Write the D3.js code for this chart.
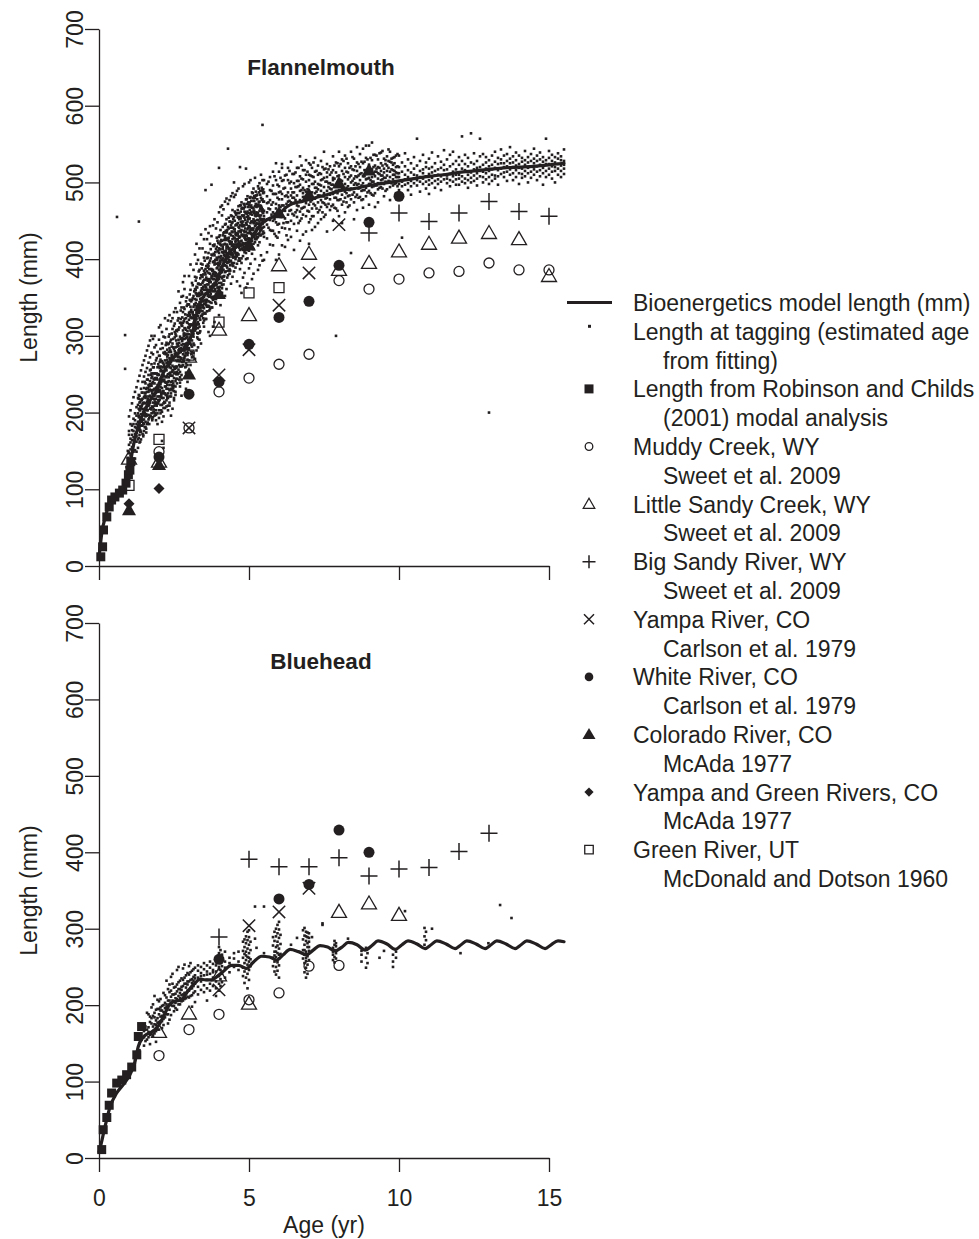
<!DOCTYPE html>
<html>
<head>
<meta charset="utf-8">
<script src="https://cdn.jsdelivr.net/npm/d3@7"></script>
<style>
  body { margin: 0; background: #fff; }
  svg { display: block; }
  text { font-family: "Liberation Sans", Arial, Helvetica, sans-serif; fill: #231f20; }
</style>
</head>
<body>
<svg id="chart" width="979" height="1239"></svg>
<script>
// ---------- Axis ticks ----------
const ageTicks = [0, 5, 10, 15];
const lengthTicks = [0, 100, 200, 300, 400, 500, 600, 700];

// ---------- Flannelmouth ----------
// Bioenergetics model length (age yr, length mm)
const flanModel = [[0,12],[0.04,25],[0.1,45],[0.2,62],[0.3,76],[0.45,87],[0.6,93],[0.75,99],[0.9,110],[1.0,122],[1.08,142],[1.18,163],[1.31,182],[1.45,197],[1.59,208],[1.75,219],[1.92,229],[2.1,248],[2.26,260],[2.42,269],[2.59,275],[2.75,281],[2.92,286],[3.03,295],[3.14,308],[3.26,329],[3.38,343],[3.48,351],[3.65,358],[3.81,364],[3.95,374],[4.1,390],[4.26,403],[4.42,412],[4.59,416],[4.8,419],[5.03,424],[5.2,434],[5.37,444],[5.59,451],[5.8,455],[6.03,460],[6.25,468],[6.48,473],[6.75,475],[7.03,478],[7.3,481],[7.59,484],[8.0,489],[8.5,492],[9.0,496],[9.5,499],[10,502],[10.5,505],[11,508],[11.5,510],[12,513],[12.5,515],[13,517],[13.5,519],[14,520],[14.5,521],[15,523],[15.5,525]];

// Length at tagging, one string per estimated age: "age:length length ..."
const flanTagging = [
  "0.60:455", "0.87:257 301", "0.92:114 129", "0.96:108 141 150",
  "1.00:147 171 158 134 176 122 195",
  "1.05:129 166 152 185 161 203 144",
  "1.10:183 140 171 155 212 164 131 177",
  "1.15:158 149 192 176 137 168 220 185",
  "1.20:172 199 163 151 181 227 140 190",
  "1.25:196 162 185 207 174 149 233 169 180",
  "1.30:165 188 210 154 199 177 241 219 183",
  "1.33:449",
  "1.35:203 180 161 194 222 171 248 187 213",
  "1.40:175 217 190 206 165 231 198 255 183",
  "1.45:226 197 183 211 172 240 205 262 190 218",
  "1.50:191 220 176 232 204 213 185 268 247 199",
  "1.55:212 238 195 181 225 206 253 219 274 188",
  "1.60:243 203 227 185 214 258 232 196 281 210",
  "1.65:197 221 249 209 236 191 265 227 287 215",
  "1.70:230 213 255 196 241 222 272 205 294 237",
  "1.75:251 218 235 204 263 228 199 245 278 300",
  "1.90:197 226 244 211 232 190 268 218 288 203",
  "1.80:229 207 251 222 194 240 213 276 259 296 200",
  "1.95:212 243 199 228 259 221 185 249 279 236",
  "1.85:251 222 209 238 196 264 231 217 285 300 243",
  "2.10:201 232 254 219 243 210 267 225 188 290 305 163",
  "2.00:238 215 260 229 203 249 221 274 193 295 311",
  "2.15:219 249 206 241 264 228 212 278 195 299 154",
  "2.05:254 227 210 244 221 269 237 199 283 314 233",
  "2.30:231 266 219 250 209 240 275 225 203 289 320",
  "2.20:259 234 213 247 279 225 240 206 298 268 323",
  "2.35:221 251 236 271 209 259 229 284 213 302 327",
  "2.25:265 239 223 255 216 277 246 231 291 208 309",
  "2.50:245 272 228 259 219 235 283 251 216 313 331",
  "2.40:231 258 279 240 221 266 248 225 295 319 196",
  "2.55:268 241 252 227 285 260 234 302 223 336 277",
  "2.45:248 273 234 261 290 241 255 229 309 323 205",
  "2.70:280 253 267 239 299 260 246 317 234 343 272",
  "2.60:260 290 244 275 253 306 267 238 331 286",
  "2.75:271 249 296 281 260 314 243 288 337 351 222",
  "2.65:295 268 256 281 308 273 251 323 287 358",
  "2.90:264 290 308 278 260 297 323 285 345 252 231",
  "2.80:307 282 268 296 317 276 262 331 289 352 370",
  "2.95:291 306 275 317 298 269 327 284 341 262 240",
  "2.85:322 296 281 310 289 335 271 303 361 378",
  "3.10:286 314 331 303 279 323 294 347 272 369 248",
  "3.00:330 310 294 321 302 284 341 315 378 268",
  "3.15:308 338 299 326 290 317 352 303 386 278",
  "3.05:324 298 346 314 331 307 290 360 338 393 262",
  "3.30:341 318 303 332 355 310 296 368 326 399 285",
  "3.20:313 340 361 327 307 348 319 377 334 406 270",
  "3.35:356 331 312 344 323 367 337 304 386 414 295",
  "3.25:337 322 364 347 331 314 376 354 394 420 281",
  "3.50:329 360 342 373 320 351 336 385 312 426 402",
  "3.40:367 348 333 359 379 340 326 394 354 432 290",
  "3.55:342 373 355 329 364 387 347 322 409 439 380 490",
  "3.45:377 355 340 369 332 393 361 349 414 328",
  "3.70:357 344 381 364 335 372 398 352 420 443 300",
  "3.60:384 360 347 374 338 401 367 355 426 332",
  "3.75:364 387 350 375 343 359 406 378 430 497 337",
  "3.65:391 367 353 382 345 408 372 360 434 339 305",
  "3.90:373 354 394 366 382 348 413 378 440 342",
  "3.80:396 374 358 386 351 418 367 381 444 347 312",
  "3.95:363 401 380 357 389 410 373 352 448 424",
  "3.85:405 383 369 393 359 419 378 397 452 351 318",
  "4.10:375 409 389 366 399 424 383 362 457 356 470",
  "4.00:414 392 374 403 369 429 386 408 461 362 327 519",
  "4.15:386 419 398 377 408 434 392 372 465 367",
  "4.05:423 401 382 413 389 438 396 377 468 419 340",
  "4.30:396 426 407 385 416 442 402 379 472 544",
  "4.20:430 409 392 420 397 445 404 383 475 428 352",
  "4.35:403 433 414 397 423 449 410 387 477 381",
  "4.25:435 417 400 426 407 452 414 391 479 435 361",
  "4.50:410 439 419 403 428 455 416 395 481 384 500",
  "4.40:441 422 406 431 411 457 420 398 482 444 368",
  "4.55:415 444 424 408 433 460 422 400 484 389",
  "4.45:419 448 406 435 392 464 426 403 486 377",
  "4.70:444 412 429 398 455 419 387 437 470 365 520",
  "4.60:408 433 460 417 394 445 426 404 489 371",
  "4.75:449 424 401 438 413 466 431 395 474 356",
  "4.65:417 454 430 406 442 423 398 469 436 492",
  "4.90:436 408 460 425 447 400 431 414 478 363 518",
  "4.80:456 421 443 404 467 430 412 449 495 376",
  "4.95:426 449 412 439 462 418 401 434 482 368",
  "4.85:462 435 416 454 428 471 409 444 498 382",
  "5.10:440 415 467 431 449 407 424 458 487 374",
  "5.00:421 453 434 471 411 443 460 427 500 388",
  "5.15:466 440 420 452 431 476 413 447 492 381",
  "5.05:434 459 447 423 468 417 439 481 503 394",
  "5.30:451 429 471 440 418 460 433 446 495 386",
  "5.20:469 443 426 457 436 480 422 450 506 400",
  "5.35:440 463 434 475 422 449 456 431 499 392",
  "5.25:457 429 447 468 439 483 426 461",
  "5.50:475 452 434 463 442 429 487 456 503 399",
  "5.40:446 469 438 457 480 431 451 466 510 405",
  "5.45:465 441 478 450 433 461 490 446 503 398 575",
  // intermediate estimated ages
  "1.375:162 175 177 190 203 208 214", "1.475:169 171 186 199 201 212",
  "1.325:167 180 194 196 205 218 223", "1.425:183 188 191 209 216 226",
  "1.575:174 179 198 205 207 221 231", "1.675:185 193 210 213 229 234",
  "1.525:181 196 199 204 222 226 240", "1.625:187 203 215 218 232 243",
  "1.775:190 192 208 225 229 238 247", "1.875:199 212 214 224 245 251",
  "1.725:195 206 220 235 237 249 256", "1.825:201 204 218 230 244 259",
  "1.975:212 216 227 231 250 263", "2.075:203 221 224 240 256 260 267",
  "1.925:209 213 233 245 251 271", "2.025:217 229 237 239 258 266 274",
  "2.175:214 225 243 254 262 277", "2.275:219 221 236 248 269 273 282",
  "2.125:228 242 247 259 265 284", "2.225:223 234 239 257 276 288",
  "2.375:230 249 252 263 270 281 292", "2.475:232 238 255 268 285 296",
  "2.325:241 246 261 264 279 290 299", "2.425:236 253 273 275 286 303",
  "2.575:244 250 258 278 294 300 307", "2.675:243 262 267 283 291 311",
  "2.525:252 257 276 280 298 305 316", "2.625:250 268 272 289 308 320",
  "2.775:261 266 282 293 297 313 324", "2.875:259 274 287 301 310 328",
  "2.725:270 279 284 296 317 322 333", "2.825:267 285 300 303 319 337",
  "2.975:278 290 295 311 326 341", "3.075:276 288 306 315 324 334 345",
  "2.925:283 299 302 318 339 350", "3.025:290 296 312 327 331 347 354",
  "3.175:288 307 320 323 341 358", "3.275:298 304 316 335 339 352 363",
  "3.125:301 314 328 331 349 366", "3.225:309 312 325 343 356 360 372",
  "3.375:306 321 336 348 353 375", "3.475:317 323 339 345 364 371 380",
  "3.325:315 330 333 352 368 384", "3.425:326 337 349 357 362 378 388",
  "3.575:322 340 344 363 376 391", "3.675:333 338 351 370 374 387 395",
  "3.525:330 346 360 366 382 398", "3.625:339 352 356 372 389 393 402",
  "3.775:337 349 365 378 385 405", "3.875:344 358 361 380 394 399 409",
  "3.725:351 355 370 387 401 413", "3.825:348 366 374 383 397 407 417",
  "3.975:358 363 379 392 395 411 421", "4.075:356 369 385 390 404 418 425",
  "3.925:367 375 388 399 402 416 428", "4.025:364 381 394 398 413 420 431",
  "4.175:372 378 392 405 410 425 435", "4.275:376 389 395 408 419 427 438",
  "4.125:377 386 401 413 416 431 442", "4.225:384 397 404 411 425 437 446",
  "4.375:385 392 408 420 423 433 449", "4.475:391 402 406 418 430 441 452",
  "4.325:396 399 413 424 428 440 454", "4.425:395 408 417 422 436 447 456",
  "4.575:403 406 419 431 434 445 458", "4.675:401 415 421 428 441 452 460",
  "4.525:409 412 427 436 439 450 462", "4.625:407 420 425 433 447 455 464",
  "4.775:414 418 432 443 446 457 466", "4.875:412 426 429 440 451 461 468",
  "4.725:419 423 435 448 453 462 470", "4.825:416 431 437 444 457 466 472",
  "4.975:422 427 441 452 456 468 474", "5.075:420 433 438 449 461 470 476",
  "4.925:426 430 445 455 459 472 478", "5.025:424 437 442 453 464 474 480",
  "5.175:429 434 447 460 463 476 482", "5.275:428 441 451 457 469 478 484",
  "5.125:433 438 449 462 467 480 486", "5.225:432 445 456 459 472 483 488",
  "5.375:437 442 453 466 470 484 489", "5.475:436 449 460 463 475 486 491",
  "5.325:441 446 457 469 474 487 492", "5.425:440 452 463 467 477 489 493",
  "5.75:437 458 471 489", "5.95:445 462 480 497 428", "5.65:441 466 474 501", "5.85:452 459 485 508 433",
  "6.15:447 470 492 503", "6.35:439 463 476 499 515", "6.05:455 468 488 506", "6.25:448 472 483 510 431",
  "6.55:461 477 494 513", "6.75:453 466 490 505 522", "6.45:459 480 487 511", "6.65:447 469 495 502 519",
  "6.95:463 478 491 514", "7.15:456 472 498 507 526", "6.85:468 481 490 516", "7.05:452 475 486 509 523",
  "7.35:464 483 497 512", "7.55:471 479 501 518 458", "7.25:466 488 493 515", "7.45:474 482 504 520 461",
  "7.75:469 491 497 513", "7.95:477 486 508 525 463", "7.65:472 494 499 517", "7.85:480 487 505 522 467",
  "8.15:475 492 511 528", "8.35:483 490 507 519 470", "8.05:478 497 503 524", "8.25:486 493 514 531 474",
  "8.55:481 499 508 521", "8.75:489 496 512 527 477", "8.45:484 502 517 533", "8.65:492 498 509 524 480",
  "8.95:487 505 514 530", "9.15:495 501 520 536 483", "8.85:490 508 516 527", "9.05:498 503 513 532 486",
  "9.35:493 511 519 538", "9.55:501 506 524 529 489", "9.25:496 514 518 535", "9.45:504 509 522 541 492",
  "9.75:499 517 526 531", "9.95:507 512 521 537 495", "9.65:502 519 528 543", "9.85:510 515 525 533 498",
  // older fish
  "5.60:461 482 445 473 427 498 452 409",
  "5.70:477 451 490 465 438 507 419",
  "5.80:450 474 461 496 437 485 514 418",
  "5.90:485 466 448 503 472 430 457 399 525",
  "6.00:460 495 478 446 487 514 435 470 406",
  "6.10:478 455 502 470 441 524 485 418 519",
  "6.20:493 467 453 482 509 440 463 416",
  "6.30:458 487 475 503 448 519 481 425",
  "6.40:483 501 464 450 492 474 527 429",
  "6.50:499 473 457 487 511 446 480 412",
  "6.60:470 494 483 519 455 502 464 437",
  "6.70:489 462 508 477 450 497 534 424",
  "6.80:504 481 467 493 516 458 486 432",
  "6.90:477 501 488 456 510 473 529 436",
  "7.00:495 471 510 484 462 503 525 448 420",
  "7.10:487 508 466 498 477 519 456 438",
  "7.20:501 479 493 514 470 486 532 442",
  "7.30:474 498 510 483 461 522 491 447",
  "7.40:511 489 477 503 468 528 496 452",
  "7.50:486 506 494 473 517 482 540 455",
  "7.60:501 480 513 489 468 507 524 436",
  "7.70:492 510 478 499 521 484 464",
  "7.80:506 485 497 471 516 503 534 450",
  "7.90:496 480 513 489 526 300 466",
  "8.00:490 509 498 477 521 504 540 456",
  "8.10:502 484 515 493 530 471 447",
  "8.20:488 507 498 519 480 535 461",
  "8.30:513 495 482 504 525 468",
  "8.40:492 509 500 478 521 408 540",
  "8.50:505 487 516 497 531 474 452",
  "8.60:497 515 484 507 526 464 546",
  "8.70:511 493 503 520 481 537",
  "8.80:490 508 499 525 478 544 467",
  "8.90:504 516 493 511 532 482 548",
  "9.00:512 498 523 506 489 548 471",
  "9.10:501 517 507 494 529 484 552",
  "9.20:508 522 496 514 536 486 468",
  "9.30:499 512 520 505 491 530 474",
  "9.40:515 503 525 509 494 539",
  "9.50:506 518 498 513 531 482",
  "9.60:509 522 500 515 491 534",
  "9.70:501 514 527 507 494 540 477",
  "9.80:516 504 510 523 496 532",
  "9.90:507 520 499 513 535 486",
  "10.0:507 498 520 512 490 535",
  "10.1:501 514 495 428 526 483",
  "10.2:510 504 521 497 538",
  "10.3:499 516 507 490 530",
  "10.4:513 502 525 495 484",
  "10.5:505 518 499 510 533",
  "10.6:509 496 522 503 557",
  "10.7:501 515 507 528 488",
  "10.8:517 505 498 512 536",
  "10.9:508 520 501 492 526",
  "11.0:511 503 518 497 531 485",
  "11.1:506 520 499 513 539",
  "11.2:515 502 509 525 493",
  "11.3:504 517 510 498 534",
  "11.4:519 508 501 527 490",
  "11.5:510 523 504 516 542",
  "11.6:505 517 499 530 509",
  "11.7:521 511 503 536 495",
  "11.8:508 524 514 501 540",
  "11.9:517 504 528 510 497",
  "12.0:510 523 505 533 497",
  "12.1:518 508 528 501 560",
  "12.2:505 516 524 499 536",
  "12.3:521 510 503 532 493",
  "12.4:513 526 506 564 500",
  "12.5:524 509 517 502 538",
  "12.6:512 528 505 519 496",
  "12.7:520 508 534 515 557",
  "12.8:507 523 514 500 537",
  "12.9:526 512 518 504 533",
  "13.0:515 529 507 521 200 498",
  "13.1:523 510 535 517 502",
  "13.2:509 527 519 505 540",
  "13.3:532 516 524 508 497",
  "13.4:518 530 511 525 543",
  "13.5:525 513 535 507 520",
  "13.6:514 528 521 502 537",
  "13.7:531 517 525 510 546",
  "13.8:520 534 512 526 503",
  "13.9:516 529 522 507 539",
  "14.0:524 512 535 519 498",
  "14.1:511 527 518 532 506",
  "14.2:529 515 523 508 541",
  "14.3:519 533 512 526 500",
  "14.4:514 528 521 506 537",
  "14.5:531 517 525 510 544",
  "14.6:521 535 514 528 503",
  "14.7:516 530 523 508 539",
  "14.8:533 519 527 512 497",
  "14.9:524 515 557 529 507",
  "15.0:518 532 524 510 541",
  "15.1:528 514 521 536 505",
  "15.2:520 533 515 526 500",
  "15.3:531 518 524 510 538",
  "15.4:515 529 522 507 534",
  "15.5:523 511 528 518 543"
];

const flanRobinson = [[0.06,12],[0.12,25],[0.15,47],[0.26,64],[0.34,77],[0.42,86],[0.53,90],[0.68,95],[0.79,99],[0.90,108],[0.98,119],[1.03,125],[1.06,136]];
const flanMuddy = [[2,149],[3,180],[4,227],[5,245],[6,263],[7,276],[8,372],[9,361],[10,374],[11,382],[12,384],[13,395],[14,386],[15,386]];
const flanLittleSandy = [[1,140],[2,136],[3,273],[4,308],[5,327],[6,392],[7,407],[8,386],[9,395],[10,410],[11,420],[12,428],[13,434],[14,426],[15,378]];
const flanBigSandy = [[9,434],[10,460],[11,449],[12,460],[13,475],[14,462],[15,456]];
const flanYampa = [[3,180],[4,249],[5,282],[6,340],[7,382],[8,445]];
const flanWhite = [[2,142],[3,224],[4,240],[5,289],[6,324],[7,345],[8,392],[9,448],[10,482]];
const flanColorado = [[1,73],[2,132],[3,250],[4,355],[5,418],[6,460],[7,484],[8,499],[9,516]];
const flanYampaGreen = [[1,81],[2,101]];
const flanGreenUT = [[1,105],[2,165],[3,275],[4,318],[5,356],[6,363]];

// ---------- Bluehead ----------
const blueModel = [[0,8],[0.03,12],[0.2,41],[0.37,67],[0.59,85],[0.81,96],[1.03,109],[1.18,123],[1.31,146],[1.45,157],[1.6,162],[1.76,165],[1.98,173],[2.2,189],[2.37,202],[2.55,205],[2.75,207],[2.92,216],[3.2,229],[3.37,234],[3.55,233],[3.75,233],[3.92,237],[4.14,244],[4.42,252],[4.65,252],[4.92,248],[5.14,256],[5.42,264],[5.68,263],[5.92,259],[6.14,266],[6.37,273],[6.65,270],[6.92,266],[7.14,272],[7.37,278],[7.62,276],[7.87,271],[8.1,276],[8.31,282],[8.6,279],[8.87,272],[9.1,278],[9.3,284],[9.6,280],[9.88,273],[10.1,279],[10.3,284],[10.6,280],[10.87,274],[11.07,279],[11.26,284],[11.57,280],[11.87,274],[12.07,279],[12.26,284],[12.57,280],[12.87,274],[13.07,279],[13.26,284],[13.57,280],[13.87,274],[14.07,279],[14.26,284],[14.57,280],[14.87,274],[15.07,279],[15.3,284],[15.5,283]];

const blueTagging = [
  "1.20:128 136", "1.35:150 141", "1.50:147 166 158", "1.55:172 153",
  "1.70:161 178 149 185", "1.60:168 155 190", "1.75:176 162 183 197", "1.65:158 171 188 165",
  "1.90:180 166 194 174 152", "1.80:172 186 160 201", "1.95:183 168 177 195 207", "1.85:175 190 163 184 212",
  "2.10:186 170 199 179 193", "2.00:178 195 188 168 205", "2.15:191 182 200 174 216", "2.05:185 197 179 208 193",
  "2.30:198 188 176 206 221", "2.20:190 203 184 213 196", "2.35:206 194 181 217 227", "2.25:198 210 188 201 232",
  "2.50:205 192 214 199 223", "2.40:211 200 219 187 237", "2.55:203 215 196 224 209", "2.45:214 206 228 199 241",
  "2.70:209 221 201 232 216", "2.60:218 208 227 194 246", "2.75:213 224 205 235 220", "2.65:221 212 230 201 250",
  "2.90:216 228 209 239 223", "2.80:225 214 233 206 248", "2.95:219 231 211 242 227", "2.85:228 216 236 208 253",
  "3.10:222 234 213 245 229 198", "3.00:231 219 240 210 251", "3.15:225 237 216 247 232", "3.05:233 222 243 212 255",
  "3.20:228 239 218 249 235 204",
  "3.30:236 224 245 214 252", "3.40:231 242 220 250 238", "3.50:239 226 247 217 255",
  "3.60:233 244 222 252 240 206", "3.70:241 228 249 219 257", "3.80:236 246 225 254 243",
  "3.90:244 231 252 222 262 212", "4.00:238 250 228 257 247 268 276 219",
  "4.05:246 234 255 263 225 272", "4.10:241 251 230 259 266", "4.20:249 236 257 270",
  "4.35:255 243 262", "4.50:250 261 268", "4.65:257 246 270",
  "4.80:262 283 249 271 238", "4.85:255 276 244 267 286 229",
  "4.90:270 259 281 248 290 236 265", "4.95:263 274 253 285 241 296 222",
  "5.00:268 257 279 246 289 233 262 298", "5.05:260 272 251 283",
  "5.20:287 329", "5.25:275", "5.50:329 268",
  "5.80:262 278 251 289", "5.85:270 257 284 244 296 265",
  "5.90:276 263 290 250 300 270 240", "5.95:268 283 256 294 245 305 278",
  "6.00:274 261 288 252 299 309 236 266", "6.05:280 267 292",
  "6.40:279", "6.60:288", "6.80:272 286 261 298",
  "6.85:279 266 291 255 301 272 243", "6.90:284 270 296 258 262 249 290 236",
  "6.95:276 289 264 281 253 295 241", "7.00:283 271 294 259 288 276",
  "7.10:289", "7.45:305 307", "7.80:266 275 259 270", "7.85:272 263 279 256 284",
  "7.90:268 277 261 281", "8.30:287", "8.75:257 266 271", "8.90:249 262 275",
  "8.95:268 255", "9.35:262", "9.50:271", "9.80:257 266 250", "9.90:262 270",
  "10.20:323", "10.85:279 290 301", "10.90:285 296", "11.10:300", "12.05:268",
  "12.98:281", "13.37:331", "13.75:314"
];

const blueRobinson = [[0.09,11],[0.14,37],[0.26,53],[0.34,69],[0.42,85],[0.59,98],[0.76,102],[0.92,109],[1.09,119],[1.26,135],[1.31,159],[1.42,172]];
const blueMuddy = [[2,134],[3,168],[4,188],[5,207],[6,216],[7,251],[8,252]];
const blueLittleSandy = [[2,165],[3,189],[4,239],[5,202],[8,322],[9,333],[10,318]];
const blueBigSandy = [[4,289],[5,391],[6,381],[7,381],[8,393],[9,369],[10,378],[11,380],[12,401],[13,425]];
const blueYampa = [[4,220],[5,304],[6,322],[7,353]];
const blueWhite = [[4,260],[6,339],[7,358],[8,429],[9,400]];

// ---------- Drawing ----------
const ink = "#231f20";
const svg = d3.select("#chart");
const x = d3.scaleLinear().domain([0, 15]).range([99, 549]);
const dotSize = 2.6;

function parseColumns(cols) {
  const out = [];
  cols.forEach(s => {
    const [age, lens] = s.split(":");
    lens.trim().split(/\s+/).forEach(l => out.push([+age, +l]));
  });
  return out;
}

// Marker outlines, sized in pixels
const shapes = {
  square: s => ({ draw(c) { c.rect(-s / 2, -s / 2, s, s); } }),
  circle: r => ({ draw(c) { c.moveTo(r, 0); c.arc(0, 0, r, 0, 2 * Math.PI); } }),
  triangle: (w, h) => ({ draw(c) { c.moveTo(0, -h * 0.58); c.lineTo(w / 2, h * 0.42); c.lineTo(-w / 2, h * 0.42); c.closePath(); } }),
  plus: r => ({ draw(c) { c.moveTo(-r, 0); c.lineTo(r, 0); c.moveTo(0, -r); c.lineTo(0, r); } }),
  cross: r => ({ draw(c) { c.moveTo(-r, -r); c.lineTo(r, r); c.moveTo(-r, r); c.lineTo(r, -r); } }),
  diamond: r => ({ draw(c) { c.moveTo(0, -r); c.lineTo(r, 0); c.lineTo(0, r); c.lineTo(-r, 0); c.closePath(); } })
};

const seriesStyle = {
  robinson:    { shape: "square",   plot: [9],        key: [9],        fill: true },
  muddy:       { shape: "circle",   plot: [5],        key: [3.8],      fill: false },
  littleSandy: { shape: "triangle", plot: [15, 13],   key: [11.5, 10], fill: false },
  bigSandy:    { shape: "plus",     plot: [8.5],      key: [6.5],      fill: false },
  yampa:       { shape: "cross",    plot: [6.2],      key: [5],        fill: false },
  white:       { shape: "circle",   plot: [5.5],      key: [4.3],      fill: true },
  colorado:    { shape: "triangle", plot: [14, 12.5], key: [13, 11],   fill: true },
  yampaGreen:  { shape: "diamond",  plot: [5.5],      key: [4.6],      fill: true },
  greenUT:     { shape: "square",   plot: [10],       key: [8.5],      fill: false }
};
const seriesOrder = ["robinson", "muddy", "littleSandy", "bigSandy", "yampa", "white", "colorado", "yampaGreen", "greenUT"];

function styleMark(sel, st) {
  if (st.fill) sel.attr("fill", ink).attr("stroke", "none");
  else sel.attr("fill", "none").attr("stroke", ink).attr("stroke-width", st.shape === "plus" || st.shape === "cross" ? 1.5 : 1.3);
}

const panels = [
  {
    title: "Flannelmouth", top: 29, bottom: 566, ageLabels: false,
    model: flanModel, tagging: parseColumns(flanTagging),
    series: { robinson: flanRobinson, muddy: flanMuddy, littleSandy: flanLittleSandy, bigSandy: flanBigSandy,
              yampa: flanYampa, white: flanWhite, colorado: flanColorado, yampaGreen: flanYampaGreen, greenUT: flanGreenUT }
  },
  {
    title: "Bluehead", top: 623, bottom: 1158, ageLabels: true,
    model: blueModel, tagging: parseColumns(blueTagging),
    series: { robinson: blueRobinson, muddy: blueMuddy, littleSandy: blueLittleSandy, bigSandy: blueBigSandy,
              yampa: blueYampa, white: blueWhite }
  }
];

panels.forEach(p => {
  const y = d3.scaleLinear().domain([0, 700]).range([p.bottom, p.top]);
  const g = svg.append("g");

  // Length axis with rotated labels
  const ya = g.append("g")
    .attr("transform", `translate(${x(0)},0)`)
    .call(d3.axisLeft(y).tickValues(lengthTicks).tickSize(14).tickSizeOuter(0).tickFormat(d3.format("d")));
  ya.attr("font-size", 23).attr("font-family", null).attr("color", ink);
  ya.selectAll("path, line").attr("stroke-width", 1.3);
  ya.selectAll("text")
    .attr("x", 0).attr("y", -16.5).attr("dy", null)
    .attr("text-anchor", "middle")
    .attr("transform", "rotate(-90)");

  // Age axis
  const xa = g.append("g")
    .attr("transform", `translate(0,${p.bottom})`)
    .call(d3.axisBottom(x).tickValues(ageTicks).tickSize(14).tickSizeOuter(0)
      .tickFormat(p.ageLabels ? d3.format("d") : () => ""));
  xa.attr("font-size", 23).attr("font-family", null).attr("color", ink);
  xa.selectAll("path, line").attr("stroke-width", 1.3);
  xa.selectAll("text").attr("y", 48).attr("dy", null);

  // Axis titles
  g.append("text")
    .attr("transform", `translate(37,${(p.top + p.bottom) / 2}) rotate(-90)`)
    .attr("text-anchor", "middle").attr("font-size", 23)
    .text("Length (mm)");
  if (p.ageLabels) {
    g.append("text").attr("x", x(7.5)).attr("y", 1233)
      .attr("text-anchor", "middle").attr("font-size", 23)
      .text("Age (yr)");
  }

  // Panel title
  g.append("text").attr("x", x(7.4)).attr("y", y(640))
    .attr("text-anchor", "middle").attr("font-size", 22.5).attr("font-weight", "bold")
    .text(p.title);

  // Length at tagging
  g.append("g").selectAll("rect").data(p.tagging).join("rect")
    .attr("x", d => x(d[0]) - dotSize / 2).attr("y", d => y(d[1]) - dotSize / 2)
    .attr("width", dotSize).attr("height", dotSize)
    .attr("fill", ink);

  // Bioenergetics model curve
  g.append("path").datum(p.model)
    .attr("fill", "none").attr("stroke", ink).attr("stroke-width", 3.2)
    .attr("stroke-linejoin", "round").attr("stroke-linecap", "round")
    .attr("d", d3.line().x(d => x(d[0])).y(d => y(d[1])).curve(d3.curveMonotoneX));

  // Published length-at-age series
  seriesOrder.forEach(k => {
    const pts = p.series[k];
    if (!pts) return;
    const st = seriesStyle[k];
    const sym = d3.symbol().type(shapes[st.shape](...st.plot));
    g.append("g").selectAll("path").data(pts).join("path")
      .attr("transform", d => `translate(${x(d[0])},${y(d[1])})`)
      .attr("d", sym)
      .call(styleMark, st);
  });
});

// ---------- Legend ----------
const legendRows = [
  { key: "model", label: "Bioenergetics model length (mm)" },
  { key: "tagging", label: "Length at tagging (estimated age" },
  { label: "from fitting)" },
  { key: "robinson", label: "Length from Robinson and Childs" },
  { label: "(2001) modal analysis" },
  { key: "muddy", label: "Muddy Creek, WY" },
  { label: "Sweet et al. 2009" },
  { key: "littleSandy", label: "Little Sandy Creek, WY" },
  { label: "Sweet et al. 2009" },
  { key: "bigSandy", label: "Big Sandy River, WY" },
  { label: "Sweet et al. 2009" },
  { key: "yampa", label: "Yampa River, CO" },
  { label: "Carlson et al. 1979" },
  { key: "white", label: "White River, CO" },
  { label: "Carlson et al. 1979" },
  { key: "colorado", label: "Colorado River, CO" },
  { label: "McAda 1977" },
  { key: "yampaGreen", label: "Yampa and Green Rivers, CO" },
  { label: "McAda 1977" },
  { key: "greenUT", label: "Green River, UT" },
  { label: "McDonald and Dotson 1960" }
];

const legend = svg.append("g");
const rowY = i => 311 + i * 28.8;
legendRows.forEach((r, i) => {
  const by = rowY(i);
  const cy = by - 8.5;
  legend.append("text")
    .attr("x", r.key ? 633 : 663).attr("y", by)
    .attr("font-size", 23)
    .text(r.label);
  if (!r.key) return;
  if (r.key === "model") {
    legend.append("line").attr("x1", 567).attr("x2", 612).attr("y1", cy).attr("y2", cy)
      .attr("stroke", ink).attr("stroke-width", 3);
  } else if (r.key === "tagging") {
    legend.append("rect").attr("x", 588).attr("y", cy - 6.5).attr("width", 3).attr("height", 3).attr("fill", ink);
  } else {
    const st = seriesStyle[r.key];
    legend.append("path")
      .attr("transform", `translate(589,${cy})`)
      .attr("d", d3.symbol().type(shapes[st.shape](...st.key)))
      .call(styleMark, st);
  }
});
</script>
</body>
</html>
